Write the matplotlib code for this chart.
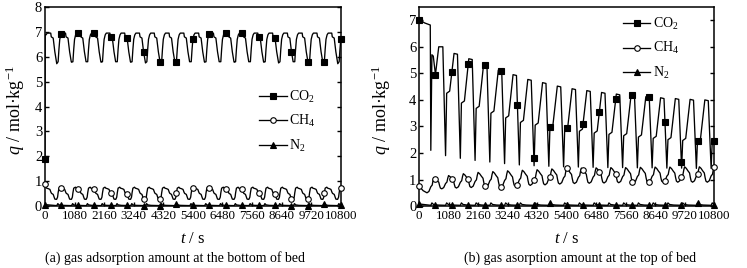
import numpy as np
import matplotlib
matplotlib.use("Agg")
import matplotlib.pyplot as plt

# ---------------- data ----------------
t_ticks = [0, 1080, 2160, 3240, 4320, 5400, 6480, 7560, 8640, 9720, 10800]
t_end = 10800
first_switch = 430          # s, first bed switch
cycle_len = 540             # s, cycle length
n_cycles = 20
marker_times = list(range(0, 10801, 600))

# ---- (a) bottom of bed ----
a_co2_start_t = [0, 8]
a_co2_start_q = [1.9, 6.9]
a_co2_min = [5.72, 5.78, 5.80, 5.78, 5.80, 5.78, 5.75, 5.80, 5.78, 5.80,
             5.78, 5.80, 5.78, 5.80, 5.78, 5.75, 5.80, 5.78, 5.80, 5.72]
a_co2_phase = [50, 80, 110, 150, 190, 320, 340, 410, 470, 530]
a_co2_shape = [5.80, 6.30, 6.70, 6.88, 6.95, 6.95, 6.80, 6.75, 6.20, 5.80]

a_ch4_start_q = 0.88
a_ch4_phase = [0, 30, 50, 80, 110, 140, 170, 230, 290, 330, 350, 410, 440, 470, 530]
a_ch4_shape = [0.28, 0.36, 0.53, 0.72, 0.74, 0.76, 0.72, 0.70, 0.67, 0.55,
               0.51, 0.47, 0.37, 0.28, 0.27]

a_n2_start_q = 0.06
a_n2_phase = [0, 40, 80, 200]
a_n2_shape = [0.02, 0.10, 0.05, 0.03]

# ---- (b) top of bed ----
b_co2_first_t = [0, 80, 200, 330, 410, 430, 470, 520, 600, 720, 870]
b_co2_first_q = [7.0, 6.98, 6.90, 6.85, 6.82, 2.10, 5.70, 5.65, 4.95, 6.00, 6.00]
b_co2_dip = [1.90, 1.80, 1.72, 1.66, 1.60, 1.55, 1.52, 1.50, 1.48, 1.47,
             1.46, 1.45, 1.45, 1.44, 1.44, 1.43, 1.43, 1.42, 1.42]
b_co2_low = [4.25, 3.88, 3.68, 3.50, 3.32, 3.15, 3.05, 2.98, 2.88, 2.82,
             2.75, 2.70, 2.65, 2.60, 2.55, 2.50, 2.47, 2.45, 2.40]
b_co2_peak = [5.75, 5.55, 5.32, 5.12, 4.95, 4.77, 4.65, 4.52, 4.42, 4.35,
              4.28, 4.22, 4.18, 4.12, 4.08, 4.05, 4.02, 4.00, 4.00]
b_co2_phase = [0, 40, 150, 310, 435]

b_ch4_start_t = [0, 150, 290]
b_ch4_start_q = [0.75, 0.58, 0.50]
b_ch4_peak = [1.07, 1.15, 1.22, 1.27, 1.30, 1.33, 1.35, 1.37, 1.40, 1.42,
              1.43, 1.44, 1.45, 1.45, 1.46, 1.47, 1.47, 1.48, 1.48, 1.49]
b_ch4_trough = [0.65, 0.68, 0.70, 0.72, 0.72, 0.75, 0.78, 0.80, 0.83, 0.85,
                0.86, 0.87, 0.88, 0.88, 0.89, 0.90, 0.90, 0.90, 0.90, 0.90]
b_ch4_rise_phase = [0, 50, 80, 110]
b_ch4_rise_w = [0.40, 0.51, 0.80, 1.0]
b_ch4_fall_phase = [170, 230, 290, 320, 350, 400]
b_ch4_fall_w = [0.90, 0.74, 0.60, 0.30, 0.07, 0.0]
b_ch4_after_phase = [470, 530]
b_ch4_after_w = [0.09, 0.35]

b_n2_start_q = 0.08
b_n2_phase = [0, 40, 100, 250]
b_n2_shape = [0.03, 0.12, 0.06, 0.04]


# ---------------- build polylines ----------------
def periodic(start_t, start_q, phases, shape, n=n_cycles + 1):
    t, q = list(start_t), list(start_q)
    for j in range(n):
        s = first_switch + j * cycle_len
        for ph, v in zip(phases, shape):
            t.append(s + ph)
            q.append(v)
    return np.array(t, float), np.array(q, float)


t, q = list(a_co2_start_t), list(a_co2_start_q)
for ph, v in zip(a_co2_phase, a_co2_shape):
    if ph >= 150:
        t.append(first_switch - cycle_len + ph); q.append(v)
for j in range(n_cycles + 1):
    s = first_switch + j * cycle_len
    t.append(s); q.append(a_co2_min[min(j, n_cycles - 1)])
    for ph, v in zip(a_co2_phase, a_co2_shape):
        t.append(s + ph); q.append(v)
a_co2 = (np.array(t), np.array(q))

t, q = [0], [a_ch4_start_q]
for ph, v in zip(a_ch4_phase, a_ch4_shape):
    if ph >= 170:
        t.append(first_switch - cycle_len + ph); q.append(v)
tt, qq = periodic([], [], a_ch4_phase, a_ch4_shape)
a_ch4 = (np.array(t + list(tt)), np.array(q + list(qq)))

a_n2 = periodic([0], [a_n2_start_q], a_n2_phase, a_n2_shape)

t, q = list(b_co2_first_t), list(b_co2_first_q)
for j in range(len(b_co2_dip)):
    s = first_switch + (j + 1) * cycle_len
    vals = [b_co2_dip[j], b_co2_low[j], b_co2_low[j] + 0.08,
            b_co2_peak[j], b_co2_peak[j] - 0.03]
    for ph, v in zip(b_co2_phase, vals):
        t.append(s + ph); q.append(v)
s = first_switch + (len(b_co2_dip) + 1) * cycle_len
t += [s, s + 40, s + 150]
q += [b_co2_dip[-1], b_co2_low[-1], b_co2_low[-1] + 0.08]
b_co2 = (np.array(t), np.array(q))

t, q = list(b_ch4_start_t), list(b_ch4_start_q)
prev_trough = b_ch4_start_q[-1]
for ph, w in zip(b_ch4_after_phase, b_ch4_after_w):
    t.append(first_switch - cycle_len + ph)
    q.append(prev_trough + w * (b_ch4_peak[0] - prev_trough))
for j in range(n_cycles):
    s = first_switch + j * cycle_len
    pk = b_ch4_peak[j]
    tr = b_ch4_trough[j]
    nxt = b_ch4_peak[min(j + 1, n_cycles - 1)]
    for ph, w in zip(b_ch4_rise_phase, b_ch4_rise_w):
        t.append(s + ph); q.append(prev_trough + w * (pk - prev_trough))
    for ph, w in zip(b_ch4_fall_phase, b_ch4_fall_w):
        t.append(s + ph); q.append(tr + w * (pk - tr))
    for ph, w in zip(b_ch4_after_phase, b_ch4_after_w):
        t.append(s + ph); q.append(tr + w * (nxt - tr))
    prev_trough = tr
b_ch4 = (np.array(t), np.array(q))

b_n2 = periodic([0], [b_n2_start_q], b_n2_phase, b_n2_shape)

# ---------------- plot ----------------
plt.rcParams['font.family'] = ['Liberation Serif', 'DejaVu Serif']
plt.rcParams['mathtext.fontset'] = 'custom'
plt.rcParams['mathtext.rm'] = 'Liberation Serif'
plt.rcParams['mathtext.it'] = 'Liberation Serif:italic'

fig = plt.figure(figsize=(7.47, 2.68), dpi=100)
ax_a = fig.add_axes([0.0602, 0.231, 0.396, 0.743])
ax_b = fig.add_axes([0.561, 0.231, 0.395, 0.743])

styles = [
    dict(marker='s', mfc='black', mec='black', ms=4.0, label='CO$_2$'),
    dict(marker='o', mfc='white', mec='black', ms=4.0, mew=0.8, label='CH$_4$'),
    dict(marker='^', mfc='black', mec='black', ms=4.5, label='N$_2$'),
]


def draw(ax, series, ylim, yticks, legend_anchor, caption, cap_x, ylab_x):
    for (t, q), st in zip(series, styles):
        ax.plot(t, q, color='black', lw=0.95, zorder=2)
        mq = np.interp(marker_times, t, q)
        ax.plot(marker_times, mq, ls='none', color='black', zorder=3,
                marker=st['marker'], mfc=st['mfc'], mec=st['mec'],
                ms=st['ms'], mew=st.get('mew', 0.8), clip_on=False)
    handles = [plt.Line2D([], [], color='black', lw=0.95, marker=st['marker'],
                          mfc=st['mfc'], mec=st['mec'], ms=st['ms'],
                          mew=st.get('mew', 0.8)) for st in styles]
    ax.legend(handles, [st['label'] for st in styles], loc='upper left',
              bbox_to_anchor=legend_anchor, frameon=False, fontsize=10,
              handlelength=2.0, handletextpad=0.15, labelspacing=0.6,
              borderaxespad=0, borderpad=0)
    ax.set_xlim(0, t_end)
    ax.set_ylim(*ylim)
    ax.set_xticks(t_ticks)
    ax.set_xticklabels([str(v) for v in t_ticks])
    ax.set_yticks(yticks)
    ax.tick_params(direction='in', length=3, width=1, pad=2,
                   top=False, right=True)
    ax.tick_params(axis='x', labelsize=9.4, pad=3)
    ax.tick_params(axis='y', labelsize=10.5)
    for sp in ax.spines.values():
        sp.set_linewidth(1.1)
    ax.set_xlabel('$t$ / s', fontsize=12)
    ax.xaxis.set_label_coords(0.5, -0.125)
    ax.set_ylabel('$q$ / mol·kg$^{-1}$', fontsize=13)
    ax.yaxis.set_label_coords(ylab_x, 0.48)
    ax.text(cap_x, -0.262, caption, transform=ax.transAxes, ha='center',
            va='center', fontsize=10)


draw(ax_a, [a_co2, a_ch4, a_n2], (0, 8), range(0, 9), (0.725, 0.59),
     '(a) gas adsorption amount at the bottom of bed', 0.44, -0.06)
draw(ax_b, [b_co2, b_ch4, b_n2], (0, 7.5), range(0, 8), (0.69, 0.955),
     '(b) gas asorption amount at the top of bed', 0.545, -0.087)

fig.savefig('out.png', dpi=100)
